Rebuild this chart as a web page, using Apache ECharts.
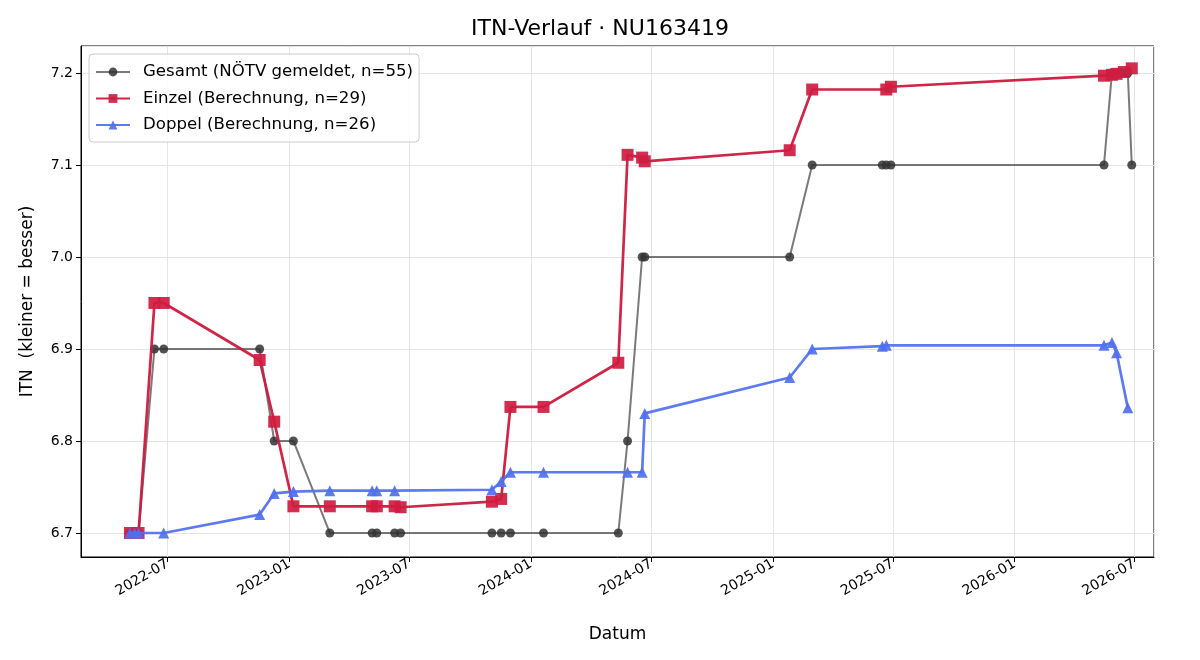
<!DOCTYPE html>
<html>
<head>
<meta charset="utf-8">
<script src="https://cdn.jsdelivr.net/npm/echarts@6/dist/echarts.min.js"></script>
<style>
  html, body { margin: 0; padding: 0; background: #fff; }
  #chart { width: 1200px; height: 660px; }
</style>
</head>
<body>
<div id="chart"></div>
<script>
// Gesamt (NÖTV gemeldet) – one point per match date
const gesamtDates = [
  '2022-05-05', '2022-05-12', '2022-05-18', '2022-06-11', '2022-06-25', '2022-11-17',
  '2022-12-09', '2023-01-07', '2023-03-03', '2023-05-06', '2023-05-13', '2023-06-09',
  '2023-06-18', '2023-11-03', '2023-11-17', '2023-12-01', '2024-01-20', '2024-05-12',
  '2024-05-26', '2024-06-17', '2024-06-21', '2025-01-26', '2025-03-01', '2025-06-15',
  '2025-06-21', '2025-06-28', '2026-05-16', '2026-05-28', '2026-06-04', '2026-06-15',
  '2026-06-21', '2026-06-27'
];
const gesamtValues = [
  6.7, 6.7, 6.7, 6.9, 6.9, 6.9,
  6.8, 6.8, 6.7, 6.7, 6.7, 6.7,
  6.7, 6.7, 6.7, 6.7, 6.7, 6.7,
  6.8, 7.0, 7.0, 7.0, 7.1, 7.1,
  7.1, 7.1, 7.1, 7.2, 7.2, 7.2,
  7.2, 7.1
];

// Einzel (Berechnung)
const einzelDates = [
  '2022-05-05', '2022-05-18', '2022-06-11', '2022-06-25', '2022-11-17', '2022-12-09',
  '2023-01-07', '2023-03-03', '2023-05-06', '2023-05-13', '2023-06-09', '2023-06-18',
  '2023-11-03', '2023-11-17', '2023-12-01', '2024-01-20', '2024-05-12', '2024-05-26',
  '2024-06-17', '2024-06-21', '2025-01-26', '2025-03-01', '2025-06-21', '2025-06-28',
  '2026-05-16', '2026-05-28', '2026-06-04', '2026-06-15', '2026-06-27'
];
const einzelValues = [
  6.700, 6.700, 6.950, 6.950, 6.888, 6.821,
  6.729, 6.729, 6.729, 6.729, 6.729, 6.728,
  6.734, 6.737, 6.837, 6.837, 6.885, 7.111,
  7.108, 7.104, 7.116, 7.182, 7.182, 7.185,
  7.197, 7.198, 7.199, 7.201, 7.205
];

// Doppel (Berechnung)
const doppelDates = [
  '2022-05-05', '2022-05-12', '2022-05-18', '2022-06-25', '2022-11-17', '2022-12-09',
  '2023-01-07', '2023-03-03', '2023-05-06', '2023-05-13', '2023-06-09', '2023-11-03',
  '2023-11-17', '2023-12-01', '2024-01-20', '2024-05-26', '2024-06-17', '2024-06-21',
  '2025-01-26', '2025-03-01', '2025-06-15', '2025-06-21', '2026-05-16', '2026-05-28',
  '2026-06-04', '2026-06-21'
];
const doppelValues = [
  6.700, 6.700, 6.700, 6.700, 6.720, 6.743,
  6.745, 6.746, 6.746, 6.746, 6.746, 6.747,
  6.756, 6.766, 6.766, 6.766, 6.766, 6.830,
  6.869, 6.900, 6.903, 6.904, 6.904, 6.907,
  6.896, 6.836
];

const seriesNames = [
  'Gesamt (NÖTV gemeldet, n=55)',
  'Einzel (Berechnung, n=29)',
  'Doppel (Berechnung, n=26)'
];

const FONT = 'DejaVu Sans';
const pairs = (dates, values) => dates.map((d, i) => [d, values[i]]);

const chart = echarts.init(document.getElementById('chart'), null, { renderer: 'canvas' });

chart.setOption({
  backgroundColor: '#fff',
  animation: false,
  textStyle: { fontFamily: FONT, color: '#000' },
  title: {
    text: 'ITN-Verlauf · NU163419',
    left: 'center',
    top: 13,
    textStyle: { fontFamily: FONT, fontSize: 22, fontWeight: 'normal', color: '#000' }
  },
  grid: {
    left: 81,
    right: 46,
    top: 46,
    bottom: 103,
    show: true,
    borderColor: '#000',
    borderWidth: 1,
    containLabel: false
  },
  legend: {
    orient: 'vertical',
    left: 89,
    top: 54,
    padding: [8, 6, 7, 6],
    itemWidth: 34,
    itemHeight: 11,
    itemGap: 6.5,
    backgroundColor: 'rgba(255,255,255,0.85)',
    borderColor: '#cccccc',
    borderWidth: 1,
    borderRadius: 4,
    textStyle: { fontFamily: FONT, fontSize: 16.6, color: '#000', lineHeight: 20, padding: [0, 0, 0, 8] },
    data: seriesNames
  },
  xAxis: {
    type: 'time',
    min: '2022-02-20',
    max: '2026-07-30T14:00:00',
    minInterval: 180 * 86400000,
    maxInterval: 185 * 86400000,
    name: 'Datum',
    nameLocation: 'middle',
    nameGap: 69,
    nameTextStyle: { fontFamily: FONT, fontSize: 17, color: '#000' },
    axisLine: { show: true, lineStyle: { color: '#000', width: 1 } },
    axisTick: { show: true, inside: false, length: 5, lineStyle: { color: '#000' } },
    minorTick: { show: false },
    axisLabel: {
      rotate: 30,
      margin: 6,
      fontFamily: FONT,
      fontSize: 14,
      color: '#000',
      showMinLabel: false,
      showMaxLabel: false,
      formatter: v => echarts.time.format(v, '{yyyy}-{MM}', false)
    },
    splitLine: { show: true, lineStyle: { color: '#e4e4e4', width: 1 } }
  },
  yAxis: {
    type: 'value',
    min: 6.6739,
    max: 7.2293,
    name: 'ITN  (kleiner = besser)',
    nameLocation: 'middle',
    nameGap: 45,
    nameTextStyle: { fontFamily: FONT, fontSize: 17, color: '#000' },
    axisLine: { show: true, lineStyle: { color: '#000', width: 1 } },
    axisTick: { show: true, inside: false, length: 5, lineStyle: { color: '#000' } },
    axisLabel: {
      margin: 8,
      fontFamily: FONT,
      fontSize: 14,
      color: '#000',
      showMinLabel: false,
      showMaxLabel: false,
      formatter: v => v.toFixed(1)
    },
    splitLine: { show: true, lineStyle: { color: '#e4e4e4', width: 1 } }
  },
  series: [
    {
      name: seriesNames[0],
      type: 'line',
      data: pairs(gesamtDates, gesamtValues),
      symbol: 'circle',
      symbolSize: 9,
      z: 2,
      lineStyle: { color: '#333', width: 2, opacity: 0.65 },
      itemStyle: { color: '#333', opacity: 0.85 }
    },
    {
      name: seriesNames[1],
      type: 'line',
      data: pairs(einzelDates, einzelValues),
      symbol: 'rect',
      symbolSize: 12,
      z: 3,
      lineStyle: { color: '#cc1a3e', width: 2.7, opacity: 0.95 },
      itemStyle: { color: '#cf1c40', opacity: 0.92 }
    },
    {
      name: seriesNames[2],
      type: 'line',
      data: pairs(doppelDates, doppelValues),
      symbol: 'triangle',
      symbolSize: 11,
      z: 4,
      lineStyle: { color: '#4f6ff0', width: 2.7, opacity: 0.92 },
      itemStyle: { color: '#4f6ff0', opacity: 0.92 }
    }
  ]
});
</script>
</body>
</html>
